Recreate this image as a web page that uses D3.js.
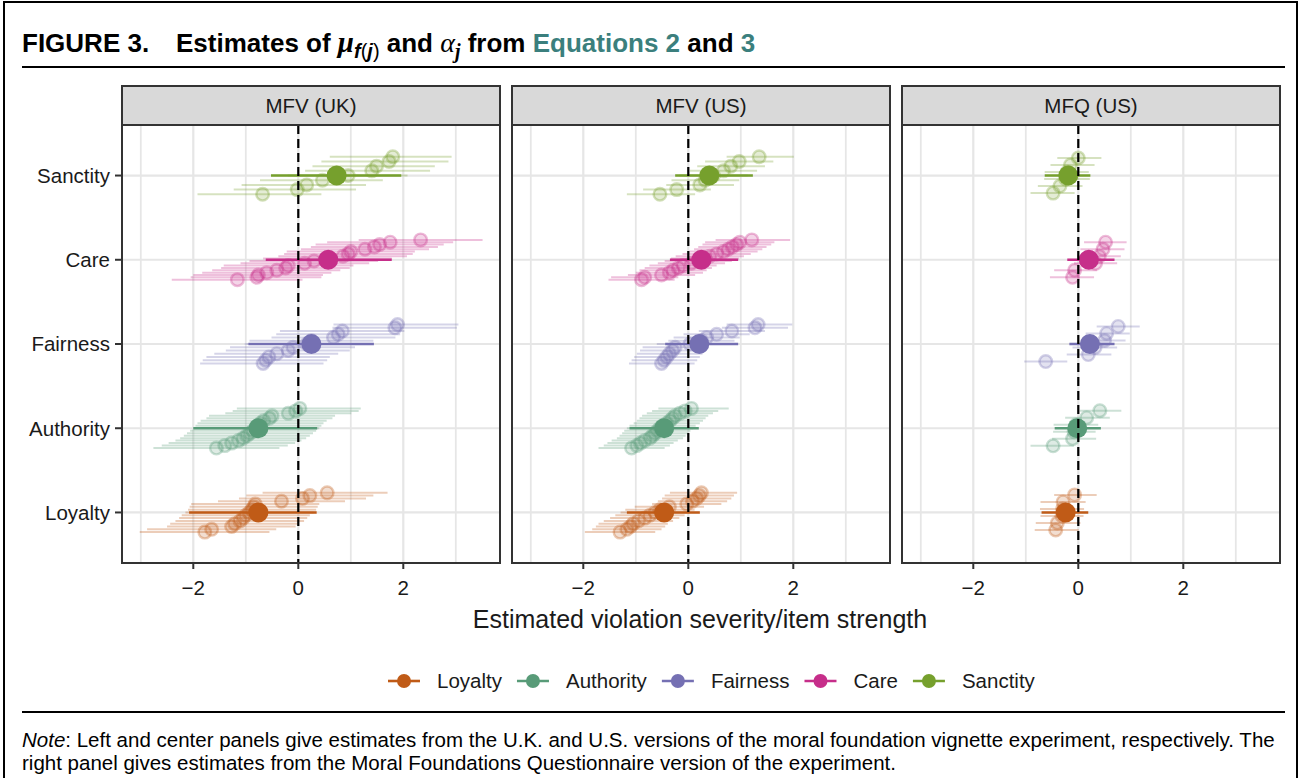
<!DOCTYPE html>
<html><head><meta charset="utf-8">
<script src="https://cdn.jsdelivr.net/npm/d3@7"></script>
<style>body{margin:0;background:#fff} svg{display:block;font-family:"Liberation Sans",Arial,Helvetica,sans-serif}</style>
</head><body><svg id="chart" width="1300" height="778"></svg>
<script>
// ---------------- DATA ----------------
const legendOrder = ["Loyalty","Authority","Fairness","Care","Sanctity"];
const rowOrder = ["Sanctity","Care","Fairness","Authority","Loyalty"];
const panelNames = ["MFV (UK)","MFV (US)","MFQ (US)"];
const xTicks = [-2, 0, 2];
const xMinor = [-3, -1, 1, 3];
const xTickLabels = ["\u22122", "0", "2"];
const colors = {Loyalty:"#C05B17", Authority:"#589B78", Fairness:"#7570B3", Care:"#C62E8A", Sanctity:"#76A02D"};

// foundation means [estimate, lower, upper]
const ukMu  = {Loyalty:[-0.76,-2.08,0.35], Authority:[-0.76,-2.00,0.36], Fairness:[0.25,-0.95,1.44], Care:[0.57,-0.62,1.78], Sanctity:[0.73,-0.52,1.96]};
const usMu  = {Loyalty:[-0.46,-1.17,0.22], Authority:[-0.46,-1.12,0.20], Fairness:[0.21,-0.44,0.95], Care:[0.25,-0.35,0.95], Sanctity:[0.40,-0.25,1.23]};
const mfqMu = {Loyalty:[-0.24,-0.70,0.19], Authority:[-0.02,-0.45,0.43], Fairness:[0.22,-0.17,0.69], Care:[0.20,-0.21,0.69], Sanctity:[-0.19,-0.64,0.23]};

// item estimates [estimate, lower, upper]
const ukSanctity = [[-0.68,-1.92,0.44],[-0.02,-1.23,1.10],[0.16,-1.08,1.29],[0.46,-0.73,1.61],[0.95,-0.20,2.08],[1.40,0.13,2.51],[1.49,0.27,2.60],[1.73,0.44,2.86],[1.80,0.60,2.92]];
const ukCare = [[-1.16,-2.41,0.08],[-0.79,-2.05,0.44],[-0.76,-2.00,0.47],[-0.60,-1.83,0.63],[-0.41,-1.64,0.80],[-0.24,-1.47,0.98],[-0.19,-1.42,1.05],[0.12,-1.10,1.35],[0.30,-0.93,1.52],[0.55,-0.67,1.78],[0.85,-0.38,2.07],[0.95,-0.27,2.18],[1.00,-0.22,2.22],[1.27,0.05,2.49],[1.45,0.24,2.66],[1.55,0.33,2.77],[1.75,0.55,2.95],[2.33,1.15,3.51]];
const ukFairness = [[-0.67,-1.87,0.48],[-0.62,-1.82,0.55],[-0.56,-1.75,0.60],[-0.41,-1.60,0.76],[-0.19,-1.38,0.98],[-0.10,-1.30,1.08],[0.16,-1.02,1.34],[0.25,-0.93,1.43],[0.67,-0.51,1.85],[0.76,-0.42,1.94],[0.84,-0.35,2.02],[1.84,0.65,3.02],[1.89,0.67,3.05]];
const ukAuthority = [[-1.56,-2.76,-0.36],[-1.40,-2.60,-0.20],[-1.27,-2.47,-0.06],[-1.14,-2.34,0.06],[-1.05,-2.25,0.15],[-0.98,-2.18,0.22],[-0.92,-2.12,0.28],[-0.86,-2.06,0.34],[-0.80,-2.00,0.40],[-0.76,-1.96,0.44],[-0.72,-1.92,0.48],[-0.66,-1.86,0.54],[-0.55,-1.75,0.65],[-0.50,-1.70,0.70],[-0.19,-1.39,1.01],[-0.05,-1.25,1.15],[0.03,-1.17,1.19]];
const ukLoyalty = [[-1.78,-3.02,-0.55],[-1.65,-2.88,-0.42],[-1.27,-2.50,-0.05],[-1.21,-2.44,0.01],[-1.11,-2.34,0.11],[-1.05,-2.27,0.17],[-1.00,-2.22,0.22],[-0.93,-2.15,0.29],[-0.88,-2.10,0.34],[-0.85,-2.07,0.37],[-0.82,-2.04,0.40],[-0.32,-1.53,0.89],[0.08,-1.13,1.29],[0.22,-0.99,1.43],[0.55,-0.68,1.70]];

const usSanctity = [[-0.54,-1.17,0.13],[-0.22,-0.86,0.43],[0.22,-0.42,0.87],[0.32,-0.32,0.97],[0.48,-0.17,1.13],[0.67,0.03,1.31],[0.81,0.17,1.46],[0.97,0.32,1.62],[1.35,0.73,2.01]];
const usCare = [[-0.89,-1.52,-0.26],[-0.83,-1.47,-0.19],[-0.51,-1.15,0.13],[-0.36,-1.00,0.28],[-0.29,-0.93,0.35],[-0.19,-0.83,0.45],[-0.10,-0.74,0.54],[0.06,-0.58,0.70],[0.19,-0.45,0.83],[0.32,-0.33,0.97],[0.41,-0.24,1.06],[0.54,-0.11,1.19],[0.67,0.02,1.32],[0.76,0.11,1.41],[0.84,0.19,1.49],[0.92,0.27,1.58],[0.98,0.32,1.64],[1.21,0.52,1.94]];
const usFairness = [[-0.51,-1.13,0.12],[-0.46,-1.08,0.17],[-0.41,-1.03,0.22],[-0.36,-0.98,0.27],[-0.30,-0.92,0.33],[-0.25,-0.87,0.38],[0.03,-0.60,0.66],[0.25,-0.38,0.88],[0.35,-0.28,0.98],[0.54,-0.09,1.17],[0.83,0.20,1.46],[1.27,0.64,1.90],[1.33,0.73,1.98]];
const usAuthority = [[-1.08,-1.71,-0.45],[-0.98,-1.61,-0.35],[-0.91,-1.54,-0.28],[-0.83,-1.46,-0.20],[-0.73,-1.36,-0.10],[-0.68,-1.31,-0.05],[-0.63,-1.26,0.00],[-0.59,-1.22,0.04],[-0.54,-1.17,0.09],[-0.49,-1.12,0.14],[-0.41,-1.04,0.22],[-0.35,-0.98,0.28],[-0.30,-0.93,0.33],[-0.25,-0.88,0.38],[-0.16,-0.79,0.47],[-0.06,-0.69,0.57],[0.06,-0.57,0.77]];
const usLoyalty = [[-1.30,-1.97,-0.63],[-1.17,-1.83,-0.51],[-1.10,-1.76,-0.44],[-1.05,-1.71,-0.39],[-0.95,-1.61,-0.29],[-0.83,-1.49,-0.17],[-0.73,-1.39,-0.07],[-0.63,-1.29,0.03],[-0.54,-1.20,0.12],[-0.36,-1.02,0.30],[-0.03,-0.69,0.63],[0.08,-0.58,0.74],[0.16,-0.50,0.82],[0.21,-0.45,0.87],[0.25,-0.35,0.93]];

const mfqSanctity = [[-0.48,-0.91,-0.07],[-0.35,-0.77,0.08],[-0.24,-0.65,0.22],[-0.21,-0.64,0.20],[-0.15,-0.53,0.31],[0.00,-0.40,0.44]];
const mfqCare = [[-0.11,-0.54,0.30],[-0.07,-0.46,0.36],[0.33,-0.08,0.74],[0.40,-0.02,0.81],[0.47,0.04,0.88],[0.52,0.11,0.92]];
const mfqFairness = [[-0.62,-1.03,-0.21],[0.19,-0.22,0.63],[0.32,-0.11,0.74],[0.50,0.10,0.90],[0.54,0.14,0.98],[0.76,0.35,1.17]];
const mfqAuthority = [[-0.48,-0.91,-0.08],[-0.11,-0.50,0.34],[-0.08,-0.48,0.33],[-0.04,-0.47,0.38],[0.16,-0.25,0.60],[0.41,0.03,0.82]];
const mfqLoyalty = [[-0.43,-0.83,0.01],[-0.40,-0.81,0.04],[-0.31,-0.72,0.10],[-0.30,-0.73,0.11],[-0.29,-0.72,0.14],[-0.07,-0.46,0.35]];

const panelData = [
  {name:panelNames[0], mu:ukMu,  items:{Loyalty:ukLoyalty, Authority:ukAuthority, Fairness:ukFairness, Care:ukCare, Sanctity:ukSanctity}},
  {name:panelNames[1], mu:usMu,  items:{Loyalty:usLoyalty, Authority:usAuthority, Fairness:usFairness, Care:usCare, Sanctity:usSanctity}},
  {name:panelNames[2], mu:mfqMu, items:{Loyalty:mfqLoyalty, Authority:mfqAuthority, Fairness:mfqFairness, Care:mfqCare, Sanctity:mfqSanctity}}
];

// ---------------- LAYOUT ----------------
const svg = d3.select("#chart");
svg.append("rect").attr("width",1300).attr("height",778).attr("fill","#fff");
svg.append("path").attr("d","M4,800 V2 H1297 V800").attr("fill","none").attr("stroke","#000").attr("stroke-width",2);

// Title
const title = svg.append("text").attr("x",22).attr("y",52).attr("font-size",26).attr("font-weight","bold").attr("fill","#000");
title.append("tspan").text("FIGURE 3.");
title.append("tspan").attr("x",176).text("Estimates of ");
title.append("tspan").attr("font-family","'Liberation Serif',serif").attr("font-style","italic").attr("font-size",29).text("\u03bc");
title.append("tspan").attr("dy",6).attr("font-size",20).attr("font-style","italic").text("f");
title.append("tspan").attr("font-size",20).attr("font-weight","normal").text("(");
title.append("tspan").attr("font-size",20).attr("font-style","italic").text("j");
title.append("tspan").attr("font-size",20).attr("font-weight","normal").text(")");
title.append("tspan").attr("dy",-6).text(" and ");
title.append("tspan").attr("font-family","'Liberation Serif',serif").attr("font-style","italic").attr("font-weight","normal").attr("font-size",28).text("\u03b1");
title.append("tspan").attr("dy",6).attr("font-size",20).attr("font-style","italic").attr("font-family","'Liberation Serif',serif").attr("font-weight","bold").text("j");
title.append("tspan").attr("dy",-6).text(" from ");
title.append("tspan").attr("fill","#3B7F7D").text("Equations 2");
title.append("tspan").text(" and ");
title.append("tspan").attr("fill","#3B7F7D").text("3");

svg.append("line").attr("x1",22).attr("x2",1285).attr("y1",67).attr("y2",67).attr("stroke","#000").attr("stroke-width",2);
svg.append("line").attr("x1",22).attr("x2",1285).attr("y1",712).attr("y2",712).attr("stroke","#000").attr("stroke-width",2);

// Note
const note1 = svg.append("text").attr("x",22).attr("y",747).attr("font-size",20.5).attr("fill","#000");
note1.append("tspan").attr("font-style","italic").text("Note");
note1.append("tspan").text(": Left and center panels give estimates from the U.K. and U.S. versions of the moral foundation vignette experiment, respectively. The");
svg.append("text").attr("x",22).attr("y",770).attr("font-size",20.5).attr("fill","#000")
  .text("right panel gives estimates from the Moral Foundations Questionnaire version of the experiment.");

// Panels
const panelX = [122, 512, 902];
const panelW = 378;
const plotTop = 125, plotBottom = 563, stripTop = 86;
const xDomain = [-3.358, 3.842];
const y = d3.scalePoint().domain(rowOrder).range([plotTop, plotBottom]).padding(0.6);
const dodgeW = 0.5 * y.step();
const gridCol = "#E6E6E6";

panelData.forEach((pd, pi) => {
  const x0 = panelX[pi];
  const x = d3.scaleLinear().domain(xDomain).range([x0, x0 + panelW]);
  const g = svg.append("g");
  g.append("rect").attr("x",x0).attr("y",plotTop).attr("width",panelW).attr("height",plotBottom-plotTop).attr("fill","#fff");
  // grid
  g.selectAll(".gmin").data(xMinor).join("line").attr("x1",d=>x(d)).attr("x2",d=>x(d)).attr("y1",plotTop).attr("y2",plotBottom).attr("stroke",gridCol).attr("stroke-width",1.8);
  g.selectAll(".gmaj").data(xTicks).join("line").attr("x1",d=>x(d)).attr("x2",d=>x(d)).attr("y1",plotTop).attr("y2",plotBottom).attr("stroke",gridCol).attr("stroke-width",2.2);
  g.selectAll(".gy").data(rowOrder).join("line").attr("x1",x0).attr("x2",x0+panelW).attr("y1",d=>y(d)).attr("y2",d=>y(d)).attr("stroke",gridCol).attr("stroke-width",2.2);

  rowOrder.forEach(f => {
    const col = colors[f];
    const items = pd.items[f].slice().sort((a,b)=>a[0]-b[0]);
    const n = items.length;
    const iy = r => y(f) - ((r + 0.5) / n - 0.5) * dodgeW;
    const ig = g.append("g");
    ig.selectAll("line").data(items).join("line")
      .attr("x1",d=>x(d[1])).attr("x2",d=>x(d[2]))
      .attr("y1",(d,i)=>iy(i)).attr("y2",(d,i)=>iy(i))
      .attr("stroke",col).attr("stroke-opacity",0.3).attr("stroke-width",2);
    ig.selectAll("circle").data(items).join("circle")
      .attr("cx",d=>x(d[0])).attr("cy",(d,i)=>iy(i)).attr("r",6.3)
      .attr("fill",col).attr("fill-opacity",0.2)
      .attr("stroke",col).attr("stroke-opacity",0.32).attr("stroke-width",2.4);
  });
  rowOrder.forEach(f => {
    const col = colors[f];
    const m = pd.mu[f];
    g.append("line").attr("x1",x(m[1])).attr("x2",x(m[2])).attr("y1",y(f)).attr("y2",y(f))
      .attr("stroke",col).attr("stroke-width",2.6);
    g.append("circle").attr("cx",x(m[0])).attr("cy",y(f)).attr("r",10).attr("fill",col);
  });
  // zero line
  g.append("line").attr("x1",x(0)).attr("x2",x(0)).attr("y1",plotTop).attr("y2",plotBottom)
    .attr("stroke","#000").attr("stroke-width",2.2).attr("stroke-dasharray","9,5");
  // border
  g.append("rect").attr("x",x0).attr("y",plotTop).attr("width",panelW).attr("height",plotBottom-plotTop)
    .attr("fill","none").attr("stroke","#333").attr("stroke-width",2);
  // strip
  g.append("rect").attr("x",x0).attr("y",stripTop).attr("width",panelW).attr("height",plotTop-stripTop)
    .attr("fill","#D9D9D9").attr("stroke","#333").attr("stroke-width",2);
  g.append("text").attr("x",x0+panelW/2).attr("y",(stripTop+plotTop)/2).attr("dy","0.36em")
    .attr("text-anchor","middle").attr("font-size",20.5).attr("fill","#1a1a1a").text(pd.name);
  // x ticks
  g.selectAll(".xt").data(xTicks).join("line").attr("x1",d=>x(d)).attr("x2",d=>x(d))
    .attr("y1",plotBottom).attr("y2",plotBottom+6).attr("stroke","#333").attr("stroke-width",2);
  g.selectAll(".xl").data(xTicks).join("text").attr("x",d=>x(d)).attr("y",595)
    .attr("text-anchor","middle").attr("font-size",20.5).attr("fill","#1a1a1a").text((d,i)=>xTickLabels[i]);
});

// y axis
svg.selectAll(".yt").data(rowOrder).join("line").attr("x1",115).attr("x2",122)
  .attr("y1",d=>y(d)).attr("y2",d=>y(d)).attr("stroke","#333").attr("stroke-width",2);
svg.selectAll(".yl").data(rowOrder).join("text").attr("x",110).attr("y",d=>y(d)).attr("dy","0.36em")
  .attr("text-anchor","end").attr("font-size",20.5).attr("fill","#1a1a1a").text(d=>d);

// x axis title
svg.append("text").attr("x",700).attr("y",628).attr("text-anchor","middle").attr("font-size",25).attr("fill","#1a1a1a")
  .text("Estimated violation severity/item strength");

// legend
const lg = svg.append("g");
let lx = 388;
const ly = 681;
legendOrder.forEach(f => {
  const col = colors[f];
  lg.append("line").attr("x1",lx).attr("x2",lx+32).attr("y1",ly).attr("y2",ly).attr("stroke",col).attr("stroke-width",2.6);
  lg.append("circle").attr("cx",lx+16).attr("cy",ly).attr("r",7).attr("fill",col);
  const t = lg.append("text").attr("x",lx+49).attr("y",ly).attr("dy","0.36em").attr("font-size",20.5).attr("fill","#1a1a1a").text(f);
  lx = lx + 49 + t.node().getComputedTextLength() + 15;
});
</script></body></html>
